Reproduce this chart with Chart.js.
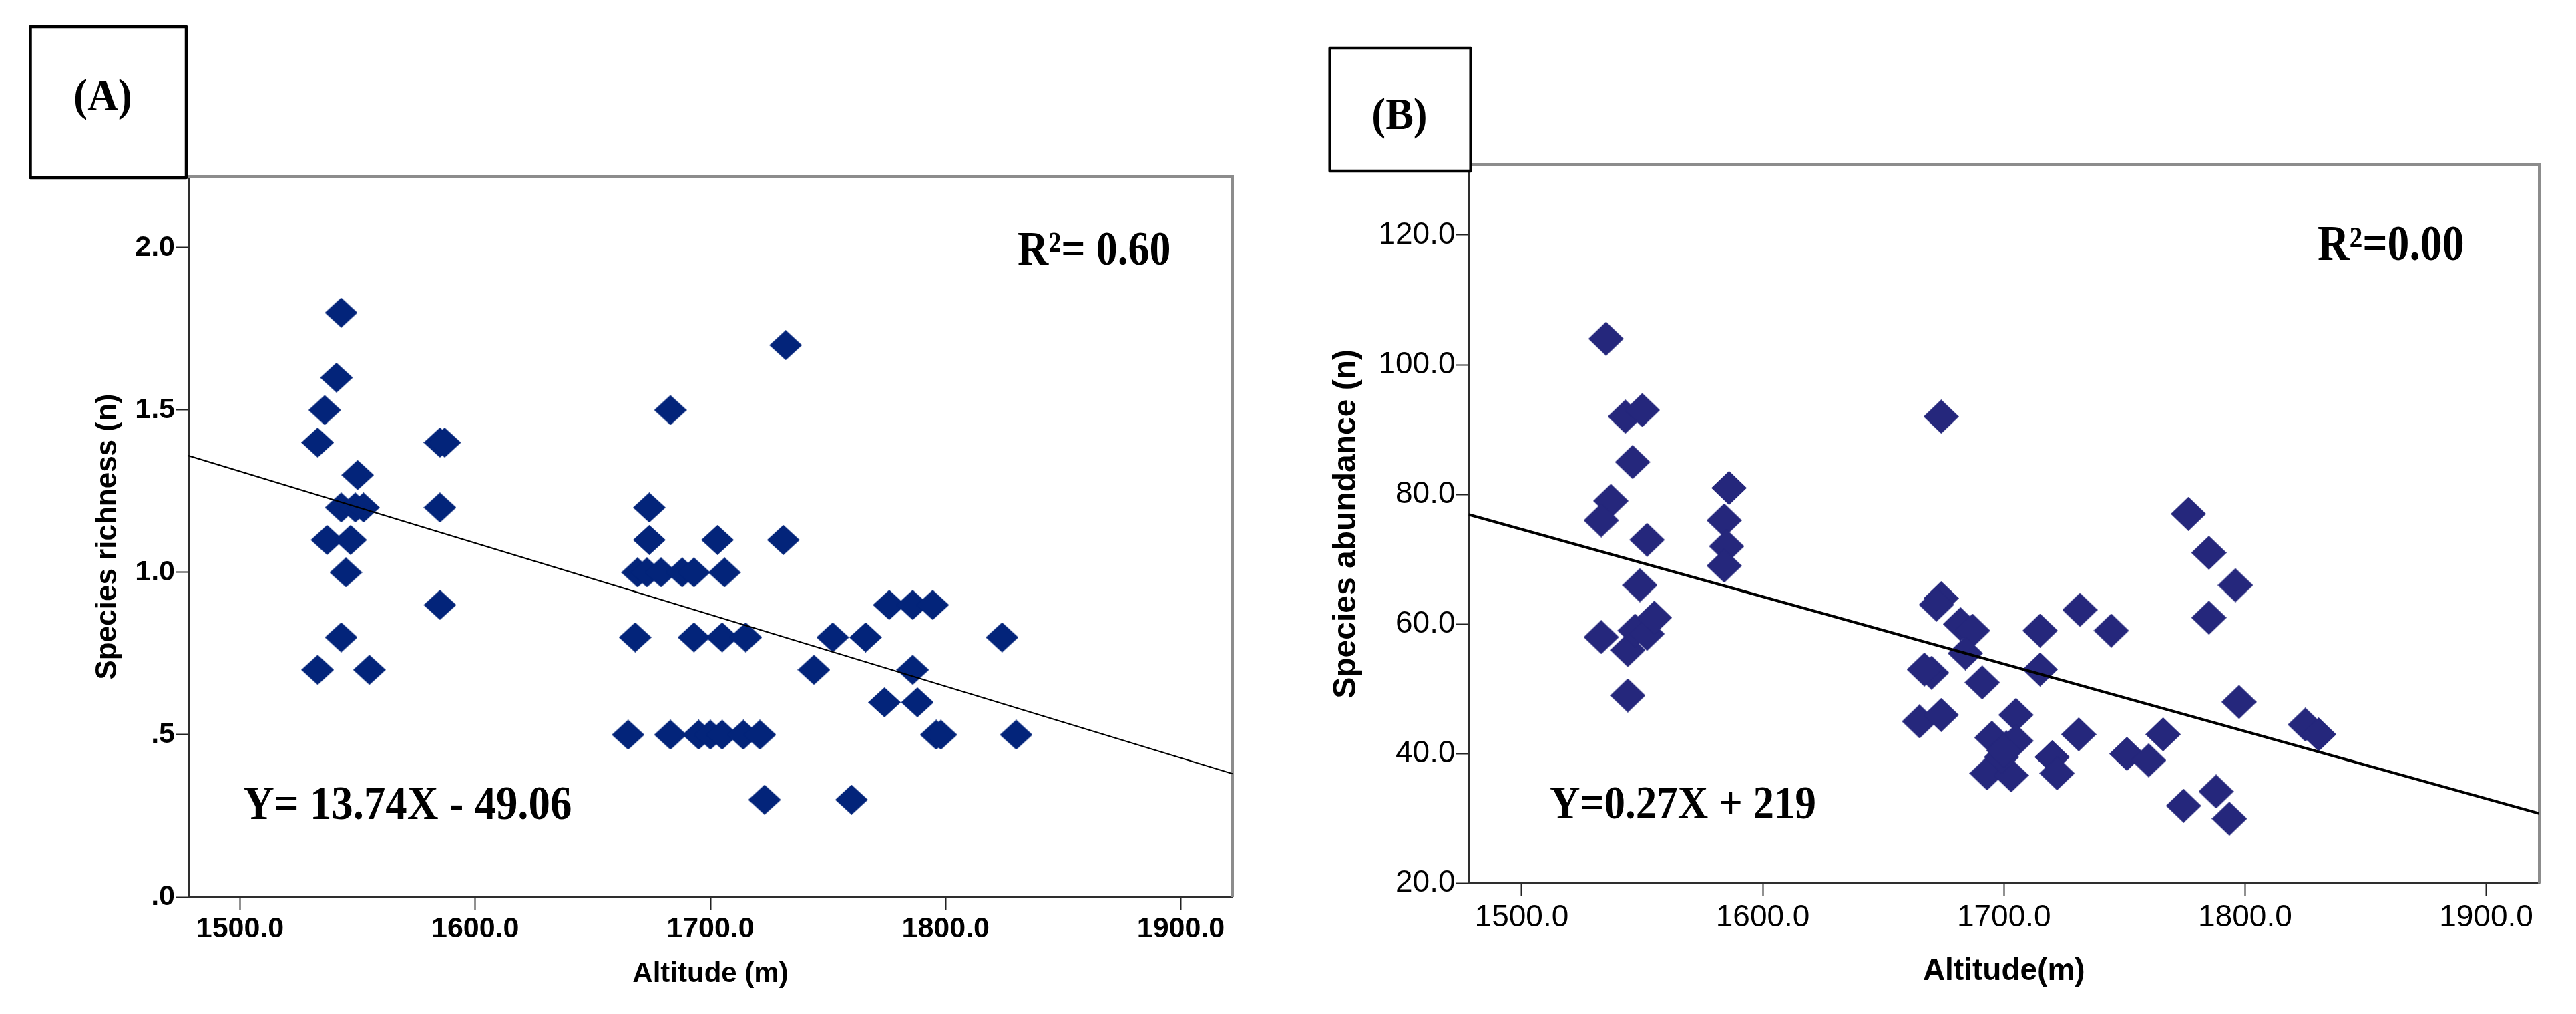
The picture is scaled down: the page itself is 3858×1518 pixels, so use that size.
<!DOCTYPE html>
<html>
<head>
<meta charset="utf-8">
<script src="https://cdn.jsdelivr.net/npm/chart.js@4.4.1/dist/chart.umd.min.js"></script>
<style>
  html, body { margin: 0; padding: 0; background: #ffffff; }
  #wrap { position: relative; width: 3858px; height: 1518px; background: #ffffff; }
  canvas { position: absolute; top: 0; }
  #cA { left: 0; }
  #cB { left: 1929px; }
</style>
</head>
<body>
<div id="wrap">
  <canvas id="cA" width="1929" height="1518"></canvas>
  <canvas id="cB" width="1929" height="1518"></canvas>
</div>
<script>
// ---------------- data ----------------
const xRange = [1478, 1922];
const xTickVals = [1500, 1600, 1700, 1800, 1900];
const xTickLabels = ['1500.0', '1600.0', '1700.0', '1800.0', '1900.0'];

const yRangeA = [0, 2.22];
const yTickValsA = [0, 0.5, 1, 1.5, 2];
const yTickLabelsA = ['.0', '.5', '1.0', '1.5', '2.0'];

const yRangeB = [20, 130.9];
const yTickValsB = [20, 40, 60, 80, 100, 120];
const yTickLabelsB = ['20.0', '40.0', '60.0', '80.0', '100.0', '120.0'];

// Panel A: species richness vs altitude
const altitudeA = [1543, 1541, 1536, 1533, 1550, 1543, 1549, 1552.5, 1537, 1547, 1545, 1543, 1533, 1555,
  1585, 1587, 1585, 1585,
  1683, 1732, 1674, 1674,
  1669, 1673, 1679, 1688, 1693, 1706,
  1703, 1731,
  1668, 1693, 1705, 1715, 1752, 1766, 1824,
  1744, 1786,
  1776, 1786, 1794.5,
  1774, 1788,
  1665, 1683, 1695, 1700, 1705, 1714, 1721, 1796, 1798, 1830,
  1723, 1760];
const richnessA = [1.8, 1.6, 1.5, 1.4, 1.3, 1.2, 1.2, 1.2, 1.1, 1.1, 1.0, 0.8, 0.7, 0.7,
  1.4, 1.4, 1.2, 0.9,
  1.5, 1.7, 1.2, 1.1,
  1.0, 1.0, 1.0, 1.0, 1.0, 1.0,
  1.1, 1.1,
  0.8, 0.8, 0.8, 0.8, 0.8, 0.8, 0.8,
  0.7, 0.7,
  0.9, 0.9, 0.9,
  0.6, 0.6,
  0.5, 0.5, 0.5, 0.5, 0.5, 0.5, 0.5, 0.5, 0.5, 0.5,
  0.3, 0.3];

// Panel B: species abundance vs altitude
const altitudeB = [1535, 1543, 1550, 1546, 1537, 1533, 1552, 1549, 1533, 1544, 1547, 1552, 1555, 1544,
  1586, 1584, 1585, 1584,
  1674, 1674, 1672, 1682, 1687, 1684, 1670, 1667, 1691, 1665, 1674,
  1705, 1715, 1715, 1731.5, 1744.5, 1731,
  1695, 1701, 1705, 1693, 1703, 1699, 1700,
  1720, 1722, 1751, 1760, 1766,
  1776.5, 1785, 1785, 1796, 1797.5,
  1774.5, 1788, 1793.5, 1825, 1830.5];
const abundanceB = [104, 92, 93, 85, 79, 76, 73, 66, 58, 56, 59, 58.5, 61, 49,
  81, 76, 72, 69,
  92, 64, 63, 60, 59, 55.5, 52.5, 53, 51, 45, 46,
  46, 59, 53, 62.2, 59, 43,
  42.5, 41, 42, 37, 36.7, 39.5, 40.5,
  39.5, 37, 40, 39, 43,
  77, 71, 61, 66, 48,
  32, 34.2, 30, 44.5, 43];

// fitted lines (end points)
const fitAltitude = [1478, 1922];
const fitRichness = [1.36, 0.38];
const fitAbundance = [76.9, 30.8];

const textA = { label: '(A)', r2: 'R\u00B2= 0.60', eq: 'Y= 13.74X - 49.06' };
const textB = { label: '(B)', r2: 'R\u00B2=0.00', eq: 'Y=0.27X + 219' };
const yTitleA = 'Species richness (n)';
const yTitleB = 'Species abundance (n)';
const xTitleA = 'Altitude (m)';
const xTitleB = 'Altitude(m)';

// ---------------- helpers ----------------
function diamond(w, h, color) {
  const c = document.createElement('canvas');
  c.width = w; c.height = h;
  const g = c.getContext('2d');
  g.fillStyle = color;
  g.beginPath();
  g.moveTo(w / 2, 0); g.lineTo(w, h / 2); g.lineTo(w / 2, h); g.lineTo(0, h / 2);
  g.closePath(); g.fill();
  return c;
}
const toPts = (xs, ys) => xs.map((x, i) => ({ x: x, y: ys[i] }));

const framePlugin = {
  id: 'frame',
  beforeDatasetsDraw(chart, args, o) {
    const { ctx, chartArea: a } = chart;
    ctx.save();
    ctx.strokeStyle = o.color; ctx.lineWidth = o.width;
    ctx.beginPath();
    ctx.moveTo(a.left, a.top); ctx.lineTo(a.right, a.top); ctx.lineTo(a.right, a.bottom);
    ctx.stroke();
    ctx.restore();
  },
  afterDraw(chart, args, o) {
    const ctx = chart.ctx;
    ctx.save();
    // panel label box
    ctx.strokeStyle = '#000'; ctx.lineWidth = o.boxWidth; ctx.lineJoin = 'round';
    ctx.fillStyle = '#fff';
    ctx.beginPath(); ctx.rect(o.box[0], o.box[1], o.box[2], o.box[3]); ctx.fill(); ctx.stroke();
    ctx.fillStyle = '#000';
    for (const t of o.texts) {
      ctx.save();
      ctx.font = t.font;
      ctx.textAlign = t.align; ctx.textBaseline = 'alphabetic';
      ctx.translate(t.x, t.y); ctx.scale(t.sx, 1);
      ctx.fillText(t.text, 0, 0);
      ctx.restore();
    }
    ctx.restore();
  }
};

function makeChart(id, cfg) {
  const tickFont = cfg.tickFont;
  return new Chart(document.getElementById(id), {
    type: 'scatter',
    data: {
      datasets: [
        { type: 'line', data: cfg.fit, borderColor: '#000', borderWidth: cfg.fitWidth,
          pointRadius: 0, fill: false, tension: 0 },
        { data: cfg.points, pointStyle: cfg.marker, pointRadius: 24, pointHoverRadius: 24,
          backgroundColor: cfg.color, borderColor: cfg.color, showLine: false }
      ]
    },
    options: {
      responsive: false, animation: false, devicePixelRatio: 1,
      layout: { padding: { top: cfg.padTop, right: cfg.padRight, left: 0, bottom: 0 } },
      plugins: {
        legend: { display: false }, tooltip: { enabled: false },
        frame: cfg.frame
      },
      scales: {
        x: {
          type: 'linear', min: xRange[0], max: xRange[1],
          afterBuildTicks: s => { s.ticks = xTickVals.map(v => ({ value: v })); },
          afterFit: s => { s.height = cfg.xAxisH; },
          ticks: { autoSkip: false, maxRotation: 0, padding: cfg.xTickPad, color: '#000', font: tickFont,
                   callback: v => xTickLabels[xTickVals.indexOf(v)] },
          grid: { drawOnChartArea: false, drawTicks: true, tickLength: cfg.tickLen, tickWidth: 2, tickColor: '#222' },
          border: { display: true, color: '#2e2e2e', width: 3 },
          title: { display: true, text: cfg.xTitle, color: '#000', font: cfg.xTitleFont,
                   padding: { top: 0, bottom: cfg.xTitlePad } }
        },
        y: {
          type: 'linear', min: cfg.yRange[0], max: cfg.yRange[1],
          afterBuildTicks: s => { s.ticks = cfg.yVals.map(v => ({ value: v })); },
          afterFit: s => { s.width = cfg.yAxisW; },
          ticks: { padding: 1, color: '#000', font: tickFont,
                   callback: v => cfg.yLabels[cfg.yVals.indexOf(v)] },
          grid: { drawOnChartArea: false, drawTicks: true, tickLength: cfg.tickLen, tickWidth: 2, tickColor: '#222' },
          border: { display: true, color: '#2e2e2e', width: 3 },
          title: { display: true, text: cfg.yTitle, color: '#000', font: cfg.yTitleFont,
                   padding: { top: cfg.yTitlePad, bottom: 0 } }
        }
      }
    },
    plugins: [framePlugin]
  });
}

const serif = '"Liberation Serif", "Times New Roman", serif';
const sans = '"Liberation Sans", Arial, sans-serif';

makeChart('cA', {
  points: toPts(altitudeA, richnessA),
  fit: toPts(fitAltitude, fitRichness),
  fitWidth: 2.2,
  marker: diamond(49, 45, '#03247a'),
  color: '#03247a',
  padTop: 264, padRight: 83, yAxisW: 282, xAxisH: 175,
  yRange: yRangeA, yVals: yTickValsA, yLabels: yTickLabelsA,
  tickFont: { family: sans, size: 43, weight: 'bold' },
  tickLen: 19, xTickPad: 3,
  xTitle: xTitleA, xTitleFont: { family: sans, size: 42, weight: 'bold' }, xTitlePad: 34,
  yTitle: yTitleA, yTitleFont: { family: sans, size: 44, weight: 'bold' }, yTitlePad: 135,
  frame: {
    color: '#8c8c8c', width: 4,
    box: [45.5, 40, 233.5, 226], boxWidth: 4.5,
    texts: [
      { text: textA.label, x: 154, y: 165, sx: 0.93, align: 'center', font: 'bold 68px ' + serif },
      { text: textA.r2, x: 1524, y: 396, sx: 0.9, align: 'left', font: 'bold 71px ' + serif },
      { text: textA.eq, x: 364, y: 1226, sx: 0.9, align: 'left', font: 'bold 72px ' + serif }
    ]
  }
});

makeChart('cB', {
  points: toPts(altitudeB, abundanceB),
  fit: toPts(fitAltitude, fitAbundance),
  fitWidth: 4,
  marker: diamond(53, 51, '#25277c'),
  color: '#25277c',
  padTop: 246, padRight: 55, yAxisW: 270.5, xAxisH: 195.3,
  yRange: yRangeB, yVals: yTickValsB, yLabels: yTickLabelsB,
  tickFont: { family: sans, size: 46, weight: 'normal' },
  tickLen: 19, xTickPad: 5,
  xTitle: xTitleB, xTitleFont: { family: sans, size: 46, weight: 'bold' }, xTitlePad: 36,
  yTitle: yTitleB, yTitleFont: { family: sans, size: 48, weight: 'bold' }, yTitlePad: 59,
  frame: {
    color: '#8c8c8c', width: 4,
    box: [62.7, 72, 211, 184], boxWidth: 4.5,
    texts: [
      { text: textB.label, x: 167, y: 193, sx: 0.92, align: 'center', font: 'bold 68px ' + serif },
      { text: textB.r2, x: 1542, y: 389, sx: 0.9, align: 'left', font: 'bold 73px ' + serif },
      { text: textB.eq, x: 392, y: 1225, sx: 0.9, align: 'left', font: 'bold 70px ' + serif }
    ]
  }
});
</script>
</body>
</html>
